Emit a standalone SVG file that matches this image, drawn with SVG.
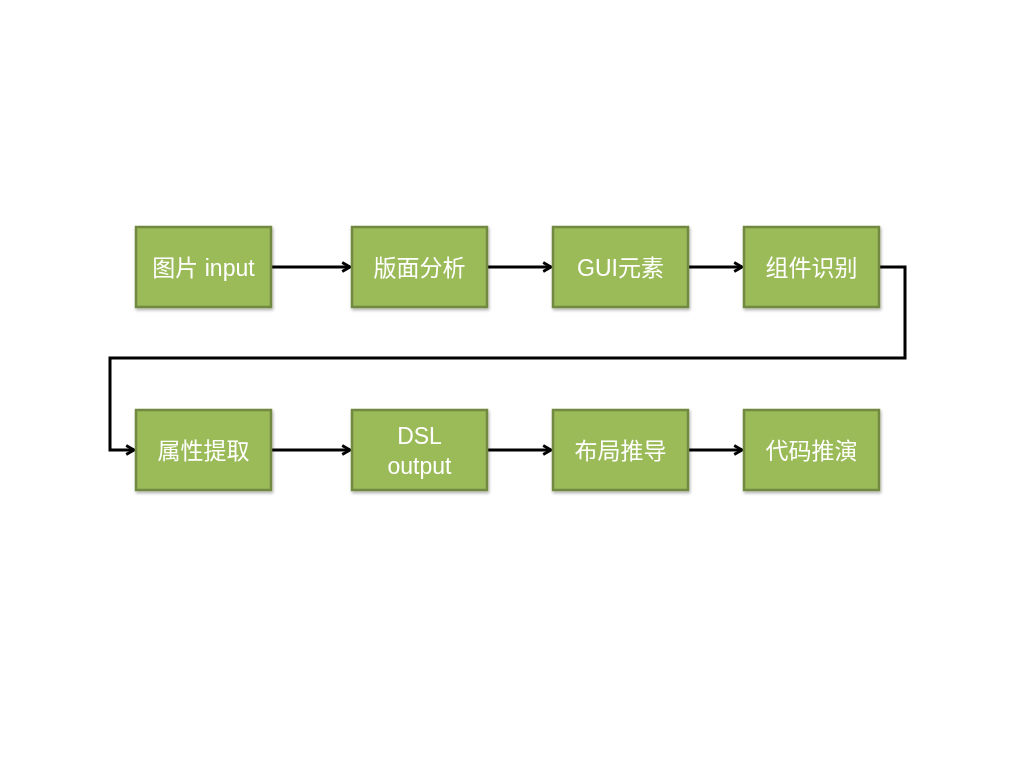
<svg xmlns="http://www.w3.org/2000/svg" width="1024" height="768" viewBox="0 0 1024 768">
<style>
.box{fill:#9BBB59;stroke:#71893F;stroke-width:2.5}
.t{font-family:"Liberation Sans","Open Sans","Noto Sans CJK SC",sans-serif;font-size:23px;fill:#fff;text-anchor:middle;dominant-baseline:central}
.c{fill:none;stroke:#000;stroke-width:3}
</style>
<defs>
<marker id="ah" viewBox="0 0 10 10" refX="9" refY="5" markerWidth="13" markerHeight="13" markerUnits="userSpaceOnUse" orient="auto" overflow="visible">
<path d="M3,1.5 L9,5 L3,8.5" fill="none" stroke="#000" stroke-width="2.2"/>
</marker>
<filter id="sh" x="-10%" y="-10%" width="130%" height="130%"><feDropShadow dx="1" dy="2" stdDeviation="1.5" flood-opacity="0.3"/></filter>
</defs>
<rect width="1024" height="768" fill="#fff"/>
<g id="connectors">
<path class="c" d="M271,267 H350" marker-end="url(#ah)"/>
<path class="c" d="M487,267 H551" marker-end="url(#ah)"/>
<path class="c" d="M688,267 H742" marker-end="url(#ah)"/>
<path class="c" d="M879,267 H905 V358 H110 V450 H134" marker-end="url(#ah)"/>
<path class="c" d="M271,450 H350" marker-end="url(#ah)"/>
<path class="c" d="M487,450 H551" marker-end="url(#ah)"/>
<path class="c" d="M688,450 H742" marker-end="url(#ah)"/>
</g>
<g id="n1" filter="url(#sh)"><rect class="box" x="136" y="227" width="135" height="80"/><text class="t" x="203.5" y="268">图片 input</text></g>
<g id="n2" filter="url(#sh)"><rect class="box" x="352" y="227" width="135" height="80"/><text class="t" x="419.5" y="268">版面分析</text></g>
<g id="n3" filter="url(#sh)"><rect class="box" x="553" y="227" width="135" height="80"/><text class="t" x="620.5" y="268">GUI元素</text></g>
<g id="n4" filter="url(#sh)"><rect class="box" x="744" y="227" width="135" height="80"/><text class="t" x="811.5" y="268">组件识别</text></g>
<g id="n5" filter="url(#sh)"><rect class="box" x="136" y="410" width="135" height="80"/><text class="t" x="203.5" y="451">属性提取</text></g>
<g id="n6" filter="url(#sh)"><rect class="box" x="352" y="410" width="135" height="80"/><text class="t" x="419.5" y="436">DSL</text><text class="t" x="419.5" y="466">output</text></g>
<g id="n7" filter="url(#sh)"><rect class="box" x="553" y="410" width="135" height="80"/><text class="t" x="620.5" y="451">布局推导</text></g>
<g id="n8" filter="url(#sh)"><rect class="box" x="744" y="410" width="135" height="80"/><text class="t" x="811.5" y="451">代码推演</text></g>
</svg>
